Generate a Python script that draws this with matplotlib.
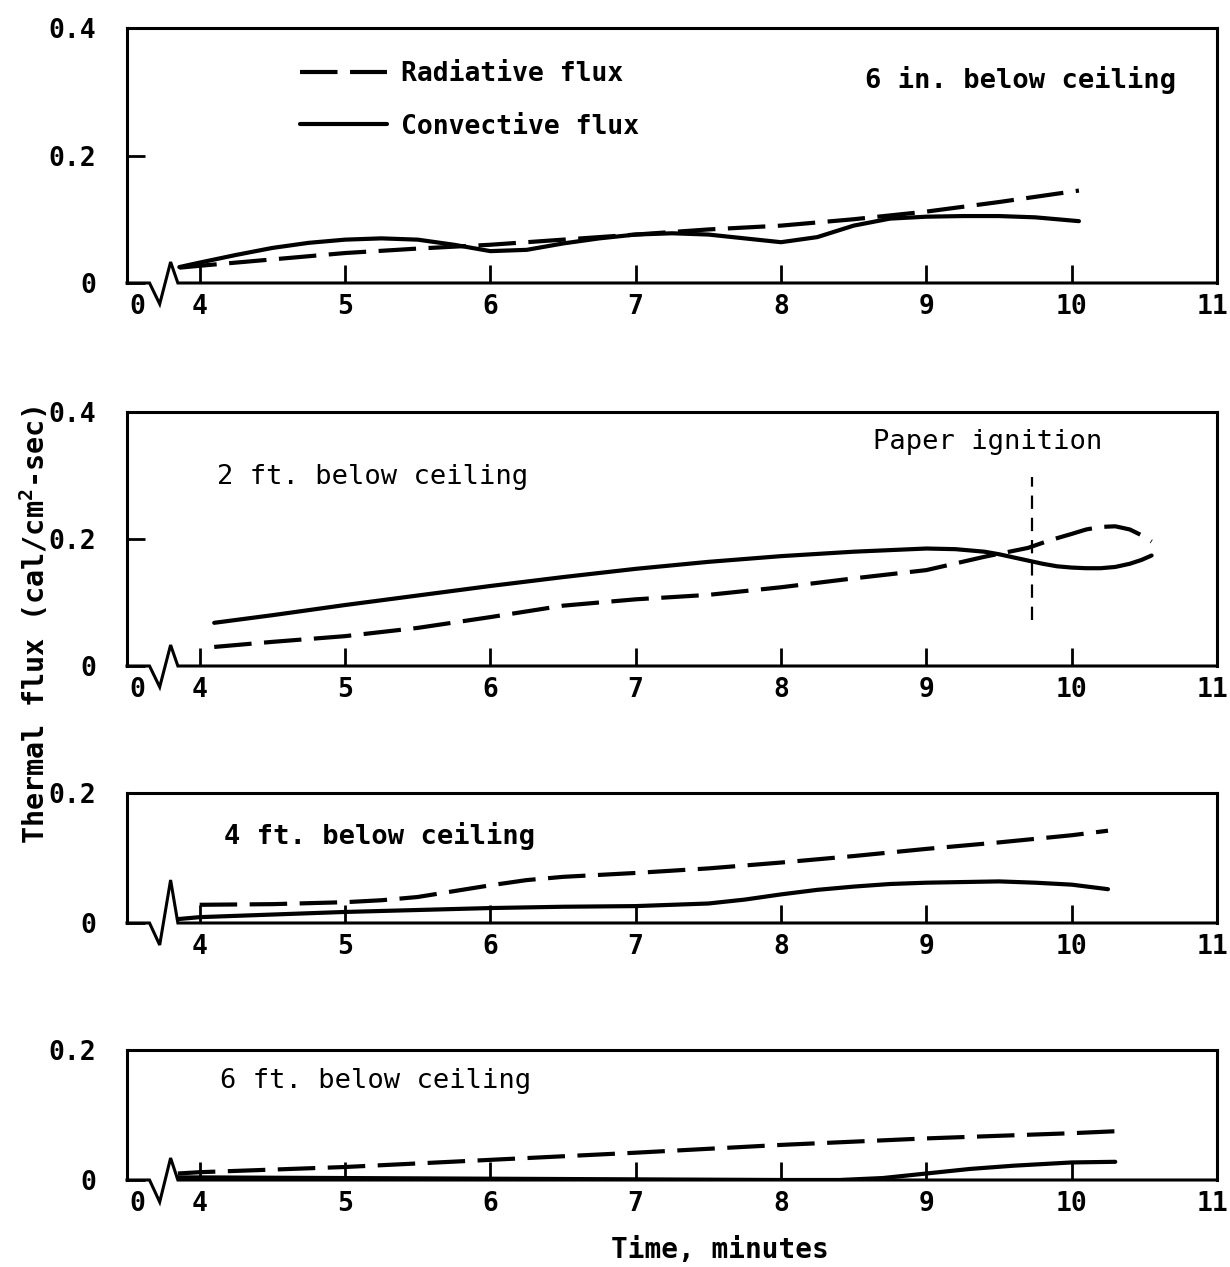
import matplotlib
matplotlib.use("Agg")
import matplotlib.pyplot as plt

plt.rcParams['font.family'] = ['DejaVu Sans Mono']
plt.rcParams['mathtext.fontset'] = 'custom'
plt.rcParams['mathtext.rm'] = 'DejaVu Sans Mono:bold'
plt.rcParams['mathtext.bf'] = 'DejaVu Sans Mono:bold'

# ---------------- data ----------------
# Panel 1: 6 in. below ceiling
rad1_t = [3.86, 4.0, 4.5, 5.0, 5.5, 6.0, 6.5, 7.0, 7.5, 8.0, 8.5, 9.0, 9.5, 10.05]
rad1 = [0.024, 0.027, 0.037, 0.047, 0.054, 0.060, 0.068, 0.076, 0.084, 0.090, 0.100, 0.112, 0.127, 0.145]
conv1_t = [3.86, 4.0, 4.25, 4.5, 4.75, 5.0, 5.25, 5.5, 5.75, 6.0, 6.25, 6.5, 6.75, 7.0,
           7.25, 7.5, 7.75, 8.0, 8.25, 8.5, 8.75, 9.0, 9.25, 9.5, 9.75, 10.05]
conv1 = [0.025, 0.032, 0.044, 0.055, 0.063, 0.068, 0.070, 0.068, 0.060, 0.050, 0.052, 0.062, 0.070, 0.076,
         0.078, 0.076, 0.070, 0.064, 0.072, 0.090, 0.101, 0.104, 0.105, 0.105, 0.103, 0.097]

# Panel 2: 2 ft. below ceiling
rad2_t = [4.1, 4.5, 5.0, 5.5, 6.0, 6.5, 7.0, 7.5, 8.0, 8.5, 9.0, 9.4, 9.7, 9.85, 10.0, 10.1, 10.2,
          10.3, 10.4, 10.48, 10.55]
rad2 = [0.030, 0.038, 0.047, 0.060, 0.077, 0.095, 0.105, 0.112, 0.124, 0.138, 0.151, 0.172, 0.186, 0.198,
        0.208, 0.215, 0.219, 0.220, 0.215, 0.206, 0.196]
conv2_t = [4.1, 4.5, 5.0, 5.5, 6.0, 6.5, 7.0, 7.5, 8.0, 8.5, 9.0, 9.2, 9.4, 9.5, 9.6, 9.7, 9.8, 9.9,
           10.0, 10.1, 10.2, 10.3, 10.4, 10.48, 10.55]
conv2 = [0.068, 0.080, 0.096, 0.111, 0.126, 0.140, 0.153, 0.164, 0.173, 0.180, 0.185, 0.184, 0.180, 0.176,
         0.171, 0.166, 0.161, 0.157, 0.155, 0.154, 0.154, 0.156, 0.161, 0.167, 0.174]
ignition_t = 9.73
ignition_span = [0.072, 0.298]

# Panel 3: 4 ft. below ceiling
rad3_t = [4.0, 4.5, 5.0, 5.25, 5.5, 5.75, 6.0, 6.25, 6.5, 7.0, 7.5, 8.0, 8.5, 9.0, 9.5, 10.0, 10.25]
rad3 = [0.028, 0.029, 0.032, 0.035, 0.040, 0.049, 0.058, 0.066, 0.071, 0.077, 0.084, 0.093, 0.103, 0.114,
        0.124, 0.135, 0.142]
conv3_t = [3.85, 4.0, 4.5, 5.0, 5.5, 6.0, 6.5, 7.0, 7.5, 7.75, 8.0, 8.25, 8.5, 8.75, 9.0, 9.5, 9.75,
           10.0, 10.25]
conv3 = [0.006, 0.009, 0.013, 0.017, 0.020, 0.023, 0.025, 0.026, 0.030, 0.036, 0.044, 0.051, 0.056, 0.060,
         0.062, 0.064, 0.062, 0.059, 0.052]

# Panel 4: 6 ft. below ceiling
rad4_t = [3.85, 4.0, 5.0, 6.0, 7.0, 8.0, 9.0, 10.0, 10.3]
rad4 = [0.010, 0.012, 0.020, 0.031, 0.042, 0.054, 0.064, 0.072, 0.075]
conv4_t = [3.85, 4.0, 5.0, 6.0, 7.0, 8.0, 8.4, 8.7, 9.0, 9.3, 9.6, 10.0, 10.3]
conv4 = [0.004, 0.004, 0.003, 0.002, 0.001, 0.0, 0.0, 0.003, 0.010, 0.017, 0.022, 0.027, 0.028]

x_ticks = [4, 5, 6, 7, 8, 9, 10]
panel_labels = ["6 in. below ceiling", "2 ft. below ceiling", "4 ft. below ceiling", "6 ft. below ceiling"]

# ---------------- figure ----------------
W, H = 1230, 1267
fig = plt.figure(figsize=(W / 100, H / 100), dpi=100)

left = 127 / W
width = (1217 - 127) / W
panel_px = [(28, 283), (412, 666), (793, 923), (1050, 1180)]
ymaxes = [0.4, 0.4, 0.2, 0.2]
zig_up = [21, 21, 43, 22]
zig_dn = [21, 21, 22, 22]
show_zero = [True, True, False, True]

series = [(rad1_t, rad1, conv1_t, conv1), (rad2_t, rad2, conv2_t, conv2),
          (rad3_t, rad3, conv3_t, conv3), (rad4_t, rad4, conv4_t, conv4)]

LW = 3.0
DASH = (9, 3)
FS = 19

axes = []
for i, (top, bot) in enumerate(panel_px):
    ax = fig.add_axes([left, 1 - bot / H, width, (bot - top) / H])
    axes.append(ax)
    ax.set_xlim(3.5, 11)
    ax.set_ylim(0, ymaxes[i])
    for s in ['top', 'left', 'right']:
        ax.spines[s].set_linewidth(2.2)
    ax.spines['bottom'].set_visible(False)

    # broken bottom axis line with zigzag
    hpx = bot - top
    zx = [3.5, 3.655, 3.725, 3.80, 3.85, 11.0]
    zy = [0, 0, -zig_dn[i] / hpx, zig_up[i] / hpx, 0, 0]
    ax.plot(zx, zy, color='black', lw=2.2, transform=ax.get_xaxis_transform(),
            clip_on=False, solid_joinstyle='miter', zorder=5)

    rt, rv, ct, cv = series[i]
    ax.plot(rt, rv, color='black', lw=LW, dashes=DASH, label='Radiative flux',
            dash_joinstyle='round', zorder=3)
    ax.plot(ct, cv, color='black', lw=LW, label='Convective flux', zorder=3,
            solid_capstyle='round', solid_joinstyle='round')

    # x ticks
    xt = ([3.57] if show_zero[i] else []) + x_ticks + [10.97]
    xl = (['0'] if show_zero[i] else []) + [str(v) for v in x_ticks] + ['11']
    ax.set_xticks(xt)
    ax.set_xticklabels(xl, fontsize=FS, fontweight='bold')
    ax.tick_params(axis='x', direction='in', length=13, width=2.0, pad=8)
    ticks = ax.xaxis.get_major_ticks()
    ticks[-1].tick1line.set_visible(False)
    if show_zero[i]:
        ticks[0].tick1line.set_visible(False)

    # y ticks
    if ymaxes[i] == 0.4:
        ax.set_yticks([0, 0.2, 0.4])
        ax.set_yticklabels(['0', '0.2', '0.4'], fontsize=FS, fontweight='bold')
    else:
        ax.set_yticks([0, 0.2])
        ax.set_yticklabels(['0', '0.2'], fontsize=FS, fontweight='bold')
    ax.tick_params(axis='y', direction='in', length=13, width=2.0, pad=22)

# panel annotations
axes[0].text(8.58, 0.318, panel_labels[0], fontsize=FS + 0.5, fontweight='bold', ha='left', va='center')
axes[1].text(4.12, 0.298, panel_labels[1], fontsize=FS + 0.5, ha='left', va='center')
axes[2].text(4.17, 0.134, panel_labels[2], fontsize=FS + 0.5, fontweight='bold', ha='left', va='center')
axes[3].text(4.14, 0.152, panel_labels[3], fontsize=FS + 0.5, ha='left', va='center')

# paper ignition marker
axes[1].plot([ignition_t, ignition_t], ignition_span, color='black', lw=1.6, dashes=(6, 4))
axes[1].text(9.42, 0.352, "Paper ignition", fontsize=FS + 0.5, ha='center', va='center')

# legend in panel 1
axes[0].legend(loc='upper left', bbox_to_anchor=(0.159, 0.87), frameon=False,
               handlelength=3.3, handletextpad=0.5, labelspacing=1.0,
               borderpad=0, borderaxespad=0,
               prop={'family': 'DejaVu Sans Mono', 'weight': 'bold', 'size': FS})

# axis labels
fig.text(35 / W, 1 - 625 / H, "Thermal flux (cal/cm$^{2}$-sec)", rotation=90,
         fontsize=20.5, fontweight='bold', ha='center', va='center')
fig.text(720 / W, 1 - 1250 / H, "Time, minutes", fontsize=20, fontweight='bold',
         ha='center', va='center')

fig.savefig("out.png", dpi=100)
